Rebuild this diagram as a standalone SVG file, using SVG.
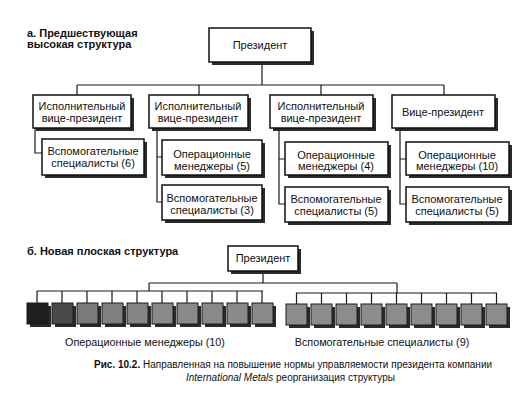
<svg xmlns="http://www.w3.org/2000/svg" width="526" height="417" viewBox="0 0 526 417">
<style>
.bx{fill:#fff;stroke:#111;stroke-width:1.5}
.sh{fill:#2a2a2a}
.t{font-family:"Liberation Sans",Arial,sans-serif;font-size:11px;fill:#111;text-anchor:middle}
.h{font-family:"Liberation Sans",Arial,sans-serif;font-size:11px;font-weight:bold;fill:#111}
.cap{font-family:"Liberation Sans",Arial,sans-serif;font-size:10px;fill:#111}
.lbl{font-family:"Liberation Sans",Arial,sans-serif;font-size:10.8px;fill:#111;text-anchor:middle}
.ln{stroke:#1a1a1a;stroke-width:1.2;fill:none}
.sq{stroke:#1a1a1a;stroke-width:1}
</style>
<rect width="526" height="417" fill="#fff"/>
<text class="h" x="27" y="37">а. Предшествующая</text>
<text class="h" x="27" y="48">высокая структура</text>

<g id="connectors">
<path class="ln" d="M262,62V85M77,85H444M77,85V95M199,85V95M321,85V95M444,85V95"/>
<path class="ln" d="M35,128V153H42"/>
<path class="ln" d="M157,128V202H162M157,157H162"/>
<path class="ln" d="M279,128V204H285M279,159H285"/>
<path class="ln" d="M400,128V204H406M400,159H406"/>
<path class="ln" d="M263,271V283M149,283H397M149,283V291M397,283V293M37,291H263M296,293H497"/>
<path class="ln" d="M37,291V303M62,291V303M87,291V303M112,291V303M137,291V303M162,291V303M187,291V303M212,291V303M237,291V303M262,291V303"/>
<path class="ln" d="M296.5,293V304M321.5,293V304M346.5,293V304M371.5,293V304M396.5,293V304M421.5,293V304M446.5,293V304M471.5,293V304M496.5,293V304"/>
</g>

<g id="president-a">
<rect class="sh" x="212" y="31" width="102" height="34"/>
<rect class="bx" x="209" y="28" width="102" height="34"/>
<text class="t" x="260" y="49">Президент</text>
</g>

<g id="evp1">
<rect class="sh" x="36" y="98" width="98" height="33"/>
<rect class="bx" x="33" y="95" width="98" height="33"/>
<text class="t" x="82" y="110">Исполнительный</text>
<text class="t" x="82" y="122">вице-президент</text>
</g>
<g id="evp2">
<rect class="sh" x="152" y="98" width="99" height="33"/>
<rect class="bx" x="149" y="95" width="99" height="33"/>
<text class="t" x="198" y="110">Исполнительный</text>
<text class="t" x="198" y="122">вице-президент</text>
</g>
<g id="evp3">
<rect class="sh" x="273" y="98" width="103" height="33"/>
<rect class="bx" x="270" y="95" width="103" height="33"/>
<text class="t" x="321" y="110">Исполнительный</text>
<text class="t" x="321" y="122">вице-президент</text>
</g>
<g id="vp4">
<rect class="sh" x="395" y="98" width="103" height="33"/>
<rect class="bx" x="392" y="95" width="103" height="33"/>
<text class="t" x="443" y="116">Вице-президент</text>
</g>

<g id="sup1">
<rect class="sh" x="45" y="142" width="102" height="36"/>
<rect class="bx" x="42" y="139" width="102" height="36"/>
<text class="t" x="93" y="155">Вспомогательные</text>
<text class="t" x="93" y="167">специалисты (6)</text>
</g>
<g id="op2">
<rect class="sh" x="165" y="143" width="100" height="35"/>
<rect class="bx" x="162" y="140" width="100" height="35"/>
<text class="t" x="212" y="158">Операционные</text>
<text class="t" x="212" y="170">менеджеры (5)</text>
</g>
<g id="sup2">
<rect class="sh" x="165" y="188" width="100" height="35"/>
<rect class="bx" x="162" y="185" width="100" height="35"/>
<text class="t" x="212" y="202">Вспомогательные</text>
<text class="t" x="212" y="214">специалисты (3)</text>
</g>
<g id="op3">
<rect class="sh" x="288" y="145" width="103" height="33"/>
<rect class="bx" x="285" y="142" width="103" height="33"/>
<text class="t" x="336" y="159">Операционные</text>
<text class="t" x="336" y="170">менеджеры (4)</text>
</g>
<g id="sup3">
<rect class="sh" x="288" y="190" width="103" height="35"/>
<rect class="bx" x="285" y="187" width="103" height="35"/>
<text class="t" x="336" y="203">Вспомогательные</text>
<text class="t" x="336" y="215">специалисты (5)</text>
</g>
<g id="op4">
<rect class="sh" x="409" y="145" width="103" height="33"/>
<rect class="bx" x="406" y="142" width="103" height="33"/>
<text class="t" x="457" y="159">Операционные</text>
<text class="t" x="457" y="170">менеджеры (10)</text>
</g>
<g id="sup4">
<rect class="sh" x="409" y="190" width="103" height="35"/>
<rect class="bx" x="406" y="187" width="103" height="35"/>
<text class="t" x="457" y="203">Вспомогательные</text>
<text class="t" x="457" y="215">специалисты (5)</text>
</g>

<text class="h" x="27" y="255">б. Новая плоская структура</text>

<g id="president-b">
<rect class="sh" x="231" y="249" width="70" height="25"/>
<rect class="bx" x="228" y="246" width="70" height="25"/>
<text class="t" x="263" y="262">Президент</text>
</g>

<g id="managers">
<g class="sh"><rect x="30" y="306" width="21" height="21"/><rect x="55" y="306" width="21" height="21"/><rect x="80" y="306" width="21" height="21"/><rect x="105" y="306" width="21" height="21"/><rect x="130" y="306" width="21" height="21"/><rect x="155" y="306" width="21" height="21"/><rect x="180" y="306" width="21" height="21"/><rect x="205" y="306" width="21" height="21"/><rect x="230" y="306" width="21" height="21"/><rect x="255" y="306" width="21" height="21"/></g>
<rect class="sq" x="27" y="303" width="21" height="21" fill="#1e1e1e"/>
<rect class="sq" x="52" y="303" width="21" height="21" fill="#4a4a4a"/>
<rect class="sq" x="77" y="303" width="21" height="21" fill="#7a7a7a"/>
<rect class="sq" x="102" y="303" width="21" height="21" fill="#808080"/>
<rect class="sq" x="127" y="303" width="21" height="21" fill="#868686"/>
<rect class="sq" x="152" y="303" width="21" height="21" fill="#8a8a8a"/>
<rect class="sq" x="177" y="303" width="21" height="21" fill="#8a8a8a"/>
<rect class="sq" x="202" y="303" width="21" height="21" fill="#8a8a8a"/>
<rect class="sq" x="227" y="303" width="21" height="21" fill="#8a8a8a"/>
<rect class="sq" x="252" y="303" width="21" height="21" fill="#8a8a8a"/>
<text class="lbl" x="145" y="346">Операционные менеджеры (10)</text>
</g>

<g id="specialists">
<g class="sh"><rect x="289" y="307" width="21" height="21"/><rect x="314" y="307" width="21" height="21"/><rect x="339" y="307" width="21" height="21"/><rect x="364" y="307" width="21" height="21"/><rect x="389" y="307" width="21" height="21"/><rect x="414" y="307" width="21" height="21"/><rect x="439" y="307" width="21" height="21"/><rect x="464" y="307" width="21" height="21"/><rect x="489" y="307" width="21" height="21"/></g>
<g class="sq" fill="#8c8c8c">
<rect x="286" y="304" width="21" height="21"/><rect x="311" y="304" width="21" height="21"/><rect x="336" y="304" width="21" height="21"/><rect x="361" y="304" width="21" height="21"/><rect x="386" y="304" width="21" height="21"/><rect x="411" y="304" width="21" height="21"/><rect x="436" y="304" width="21" height="21"/><rect x="461" y="304" width="21" height="21"/><rect x="486" y="304" width="21" height="21"/>
</g>
<text class="lbl" x="382" y="346">Вспомогательные специалисты (9)</text>
</g>

<text class="cap" x="94" y="368"><tspan font-weight="bold">Рис. 10.2.</tspan> Направленная на повышение нормы управляемости президента компании</text>
<text class="cap" x="186" y="381"><tspan font-style="italic">International Metals</tspan> реорганизация структуры</text>
</svg>
